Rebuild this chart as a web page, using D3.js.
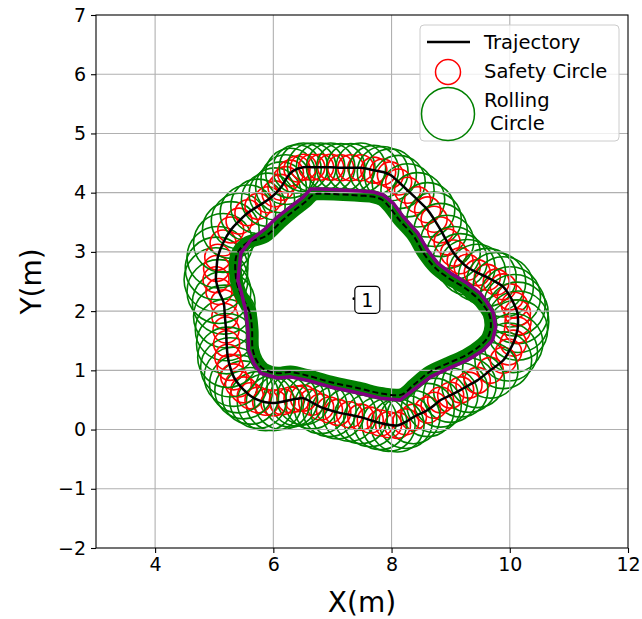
<!DOCTYPE html>
<html lang="en">
<head>
  <meta charset="UTF-8">
  <title>Trajectory</title>
  <style>
    html, body { margin: 0; background: #fff; }
    svg { display: block; font-family: "DejaVu Sans", sans-serif; }
  </style>
</head>
<body>
  <div id="main"></div>
  <script src="https://cdn.jsdelivr.net/npm/d3@7"></script>
  <script>
    // trajectory (x, y) in metres, clockwise from the left side
    const trajX = [5.20, 5.18, 5.16, 5.08, 5.03, 5.04, 5.06, 5.15, 5.28, 5.42, 5.57, 5.74, 5.91, 6.03, 6.13, 6.21, 6.29, 6.40, 6.51, 6.65,
      6.80, 6.97, 7.14, 7.31, 7.48, 7.70, 7.85, 7.98, 8.12, 8.27, 8.44, 8.61, 8.72, 8.83, 8.94, 9.05, 9.16, 9.28, 9.45, 9.62,
      9.77, 9.89, 10.01, 10.08, 10.13, 10.14, 10.13, 10.06, 9.98, 9.89, 9.67, 9.45, 9.31, 9.17, 9.00, 8.83, 8.72, 8.61, 8.37, 8.24,
      8.10, 7.95, 7.81, 7.64, 7.48, 7.29, 7.09, 6.95, 6.80, 6.65, 6.51, 6.40, 6.29, 6.15, 6.01, 5.87, 5.74, 5.61, 5.50, 5.41,
      5.33, 5.27, 5.23, 5.21]
    const trajY = [1.68, 1.91, 2.14, 2.33, 2.53, 2.72, 2.91, 3.15, 3.37, 3.52, 3.66, 3.77, 3.88, 3.98, 4.09, 4.22, 4.33, 4.40, 4.43, 4.43,
      4.43, 4.43, 4.42, 4.42, 4.42, 4.38, 4.35, 4.30, 4.18, 4.04, 3.88, 3.71, 3.55, 3.37, 3.17, 2.98, 2.85, 2.74, 2.65, 2.57,
      2.49, 2.41, 2.24, 2.10, 1.97, 1.82, 1.68, 1.46, 1.31, 1.17, 1.00, 0.83, 0.75, 0.67, 0.58, 0.50, 0.41, 0.33, 0.21, 0.13,
      0.07, 0.08, 0.11, 0.16, 0.21, 0.25, 0.29, 0.33, 0.38, 0.46, 0.53, 0.52, 0.50, 0.47, 0.45, 0.46, 0.50, 0.57, 0.67, 0.77,
      0.89, 1.05, 1.22, 1.45]
    // rolling circle radius at each trajectory point (m)
    const rollR = [0.52, 0.53, 0.53, 0.54, 0.54, 0.53, 0.52, 0.50, 0.48, 0.47, 0.47, 0.46, 0.45, 0.44, 0.43, 0.42, 0.42, 0.41, 0.41, 0.41,
      0.41, 0.41, 0.41, 0.41, 0.42, 0.42, 0.43, 0.44, 0.45, 0.45, 0.46, 0.46, 0.46, 0.45, 0.45, 0.45, 0.46, 0.47, 0.48, 0.49,
      0.50, 0.51, 0.51, 0.52, 0.52, 0.52, 0.51, 0.50, 0.49, 0.48, 0.47, 0.46, 0.46, 0.46, 0.46, 0.46, 0.46, 0.45, 0.45, 0.45,
      0.45, 0.45, 0.45, 0.45, 0.45, 0.45, 0.45, 0.45, 0.45, 0.45, 0.45, 0.46, 0.46, 0.47, 0.47, 0.48, 0.48, 0.48, 0.49, 0.49,
      0.50, 0.50, 0.51, 0.51]
    const safetyR = 0.22

    // offset boundary (purple)
    const innerX = [5.57, 5.53, 5.45, 5.40, 5.45, 5.62, 5.84, 6.07, 6.29, 6.51, 6.63, 6.80, 7.48, 7.70, 7.86, 8.03, 8.20, 8.44, 8.61, 8.78,
      9.00, 9.28, 9.50, 9.62, 9.72, 9.76, 9.71, 9.55, 9.28, 9.00, 8.66, 8.37, 8.15, 7.81, 7.48, 6.97, 6.58, 6.29, 6.07, 5.79,
      5.67, 5.58]
    const innerY = [1.68, 2.02, 2.35, 2.52, 2.98, 3.20, 3.37, 3.59, 3.76, 3.93, 4.06, 4.06, 4.03, 4.01, 3.96, 3.82, 3.59, 3.32, 3.03, 2.81,
      2.64, 2.47, 2.30, 2.14, 1.97, 1.73, 1.51, 1.34, 1.17, 1.05, 0.89, 0.67, 0.50, 0.53, 0.61, 0.72, 0.83, 0.89, 0.87, 0.95,
      1.12, 1.34]

    // obstacle edge (dashed black over the green band)
    const obsX = [5.64, 5.60, 5.44, 5.37, 5.38, 5.55, 5.86, 6.12, 6.33, 6.55, 6.68, 6.82, 7.48, 7.70, 7.84, 7.97, 8.13, 8.37, 8.54, 8.73,
      8.96, 9.24, 9.44, 9.56, 9.65, 9.68, 9.63, 9.49, 9.25, 8.98, 8.64, 8.38, 8.17, 7.82, 7.48, 6.97, 6.58, 6.29, 6.07, 5.84,
      5.72, 5.65]
    const obsY = [1.68, 1.98, 2.30, 2.55, 2.95, 3.15, 3.26, 3.50, 3.68, 3.85, 3.97, 3.98, 3.95, 3.93, 3.88, 3.75, 3.54, 3.27, 2.98, 2.74,
      2.56, 2.39, 2.23, 2.09, 1.95, 1.74, 1.56, 1.41, 1.25, 1.13, 0.97, 0.76, 0.59, 0.61, 0.69, 0.80, 0.91, 0.97, 0.95, 1.02,
      1.16, 1.36]

    const xTicks = [4, 6, 8, 10, 12]
    const yTicks = [-2, -1, 0, 1, 2, 3, 4, 5, 6, 7]
    const label = { x: 7.59, y: 2.19, text: '1', dotX: 7.36, dotY: 2.21 }

    const W = 642, H = 619
    const mLeft = 96, mRight = 628, mTop = 15, mBottom = 548

    const svg = d3.select('#main').append('svg').attr('width', W).attr('height', H)
    const x = d3.scaleLinear().domain([3, 12]).range([mLeft, mRight])
    const y = d3.scaleLinear().domain([-2, 7]).range([mBottom, mTop])
    const k = x(1) - x(0)

    const traj = trajX.map((v, i) => [v, trajY[i]])
    const inner = innerX.map((v, i) => [v, innerY[i]])
    const obs = obsX.map((v, i) => [v, obsY[i]])

    svg.append('defs').append('clipPath').attr('id', 'clip')
      .append('rect').attr('x', mLeft).attr('y', mTop).attr('width', mRight - mLeft).attr('height', mBottom - mTop)
    const plot = svg.append('g').attr('clip-path', 'url(#clip)')

    // circles: safety + rolling, one pair per trajectory point
    const cg = plot.selectAll('g.c').data(traj).join('g').attr('class', 'c')
    cg.append('circle')
      .attr('cx', d => x(d[0])).attr('cy', d => y(d[1])).attr('r', safetyR * k)
      .attr('fill', 'none').attr('stroke', '#ff0000').attr('stroke-width', 1.6)
    cg.append('circle')
      .attr('cx', d => x(d[0])).attr('cy', d => y(d[1])).attr('r', (d, i) => rollR[i] * k)
      .attr('fill', 'none').attr('stroke', '#008000').attr('stroke-width', 1.6)

    // green band
    const line = d3.line().x(d => x(d[0])).y(d => y(d[1])).curve(d3.curveCatmullRomClosed)
    plot.append('path').attr('d', line(obs))
      .attr('fill', 'none').attr('stroke', '#008000').attr('stroke-width', 13).attr('stroke-linejoin', 'round')

    // grid
    const grid = svg.append('g')
    grid.selectAll('line.gx').data(xTicks.filter(t => t < 12)).join('line')
      .attr('x1', d => x(d)).attr('x2', d => x(d)).attr('y1', mTop).attr('y2', mBottom)
      .attr('stroke', '#b0b0b0').attr('stroke-width', 1.1)
    grid.selectAll('line.gy').data(yTicks.filter(t => t > -2 && t < 7)).join('line')
      .attr('y1', d => y(d)).attr('y2', d => y(d)).attr('x1', mLeft).attr('x2', mRight)
      .attr('stroke', '#b0b0b0').attr('stroke-width', 1.1)

    const lines = svg.append('g').attr('clip-path', 'url(#clip)')
    lines.append('path').attr('d', line(traj))
      .attr('fill', 'none').attr('stroke', '#000').attr('stroke-width', 2.5)
    lines.append('path').attr('d', line(obs))
      .attr('fill', 'none').attr('stroke', '#000').attr('stroke-width', 2).attr('stroke-dasharray', '6,3')
    lines.append('path').attr('d', d3.line().x(d => x(d[0])).y(d => y(d[1])).curve(d3.curveLinearClosed)(inner))
      .attr('fill', 'none').attr('stroke', '#800080').attr('stroke-width', 3.5).attr('stroke-linejoin', 'round')

    // label "1"
    lines.append('circle').attr('cx', x(label.dotX)).attr('cy', y(label.dotY)).attr('r', 1.3).attr('fill', '#000')
    svg.append('rect').attr('x', x(label.x) - 12.5).attr('y', y(label.y) - 13.5).attr('width', 25).attr('height', 27)
      .attr('rx', 4).attr('fill', '#fff').attr('stroke', '#000').attr('stroke-width', 1.2)
    svg.append('text').attr('x', x(label.x)).attr('y', y(label.y) + 7).attr('text-anchor', 'middle')
      .attr('font-size', 19).text(label.text)

    // axes
    const xAxis = svg.append('g').attr('transform', `translate(0,${mBottom})`)
      .call(d3.axisBottom(x).tickValues(xTicks).tickSize(5).tickPadding(5).tickFormat(d3.format('d')))
    const yAxis = svg.append('g').attr('transform', `translate(${mLeft},0)`)
      .call(d3.axisLeft(y).tickValues(yTicks).tickSize(5).tickPadding(5).tickFormat(d => d < 0 ? '\u2212' + Math.abs(d) : d))
    ;[xAxis, yAxis].forEach(a => {
      a.select('.domain').remove()
      a.selectAll('text').attr('font-size', 19).attr('fill', '#000').attr('font-family', 'DejaVu Sans')
      a.selectAll('line').attr('stroke', '#000').attr('stroke-width', 1.1)
    })
    svg.append('rect').attr('x', mLeft).attr('y', mTop).attr('width', mRight - mLeft).attr('height', mBottom - mTop)
      .attr('fill', 'none').attr('stroke', '#000').attr('stroke-width', 1.1)

    svg.append('text').attr('x', (mLeft + mRight) / 2).attr('y', 612).attr('text-anchor', 'middle')
      .attr('font-size', 28).text('X(m)')
    svg.append('text').attr('transform', `translate(41,${(mTop + mBottom) / 2}) rotate(-90)`).attr('text-anchor', 'middle')
      .attr('font-size', 28).text('Y(m)')

    // legend
    const lg = svg.append('g')
    lg.append('rect').attr('x', 420).attr('y', 25).attr('width', 199).attr('height', 116).attr('rx', 4)
      .attr('fill', '#fff').attr('fill-opacity', 0.8).attr('stroke', '#cccccc').attr('stroke-width', 1)
    lg.append('line').attr('x1', 427).attr('x2', 470).attr('y1', 42).attr('y2', 42)
      .attr('stroke', '#000').attr('stroke-width', 2.5)
    lg.append('circle').attr('cx', 448).attr('cy', 72).attr('r', 12.5)
      .attr('fill', 'none').attr('stroke', '#ff0000').attr('stroke-width', 1.5)
    lg.append('circle').attr('cx', 448).attr('cy', 114).attr('r', 26.5)
      .attr('fill', 'none').attr('stroke', '#008000').attr('stroke-width', 1.5)
    const lt = [['Trajectory', 484, 49], ['Safety Circle', 484, 78], ['Rolling', 484, 107], ['Circle', 490, 130]]
    lg.selectAll('text').data(lt).join('text')
      .attr('x', d => d[1]).attr('y', d => d[2]).attr('font-size', 19.5).text(d => d[0])
  </script>
</body>
</html>
